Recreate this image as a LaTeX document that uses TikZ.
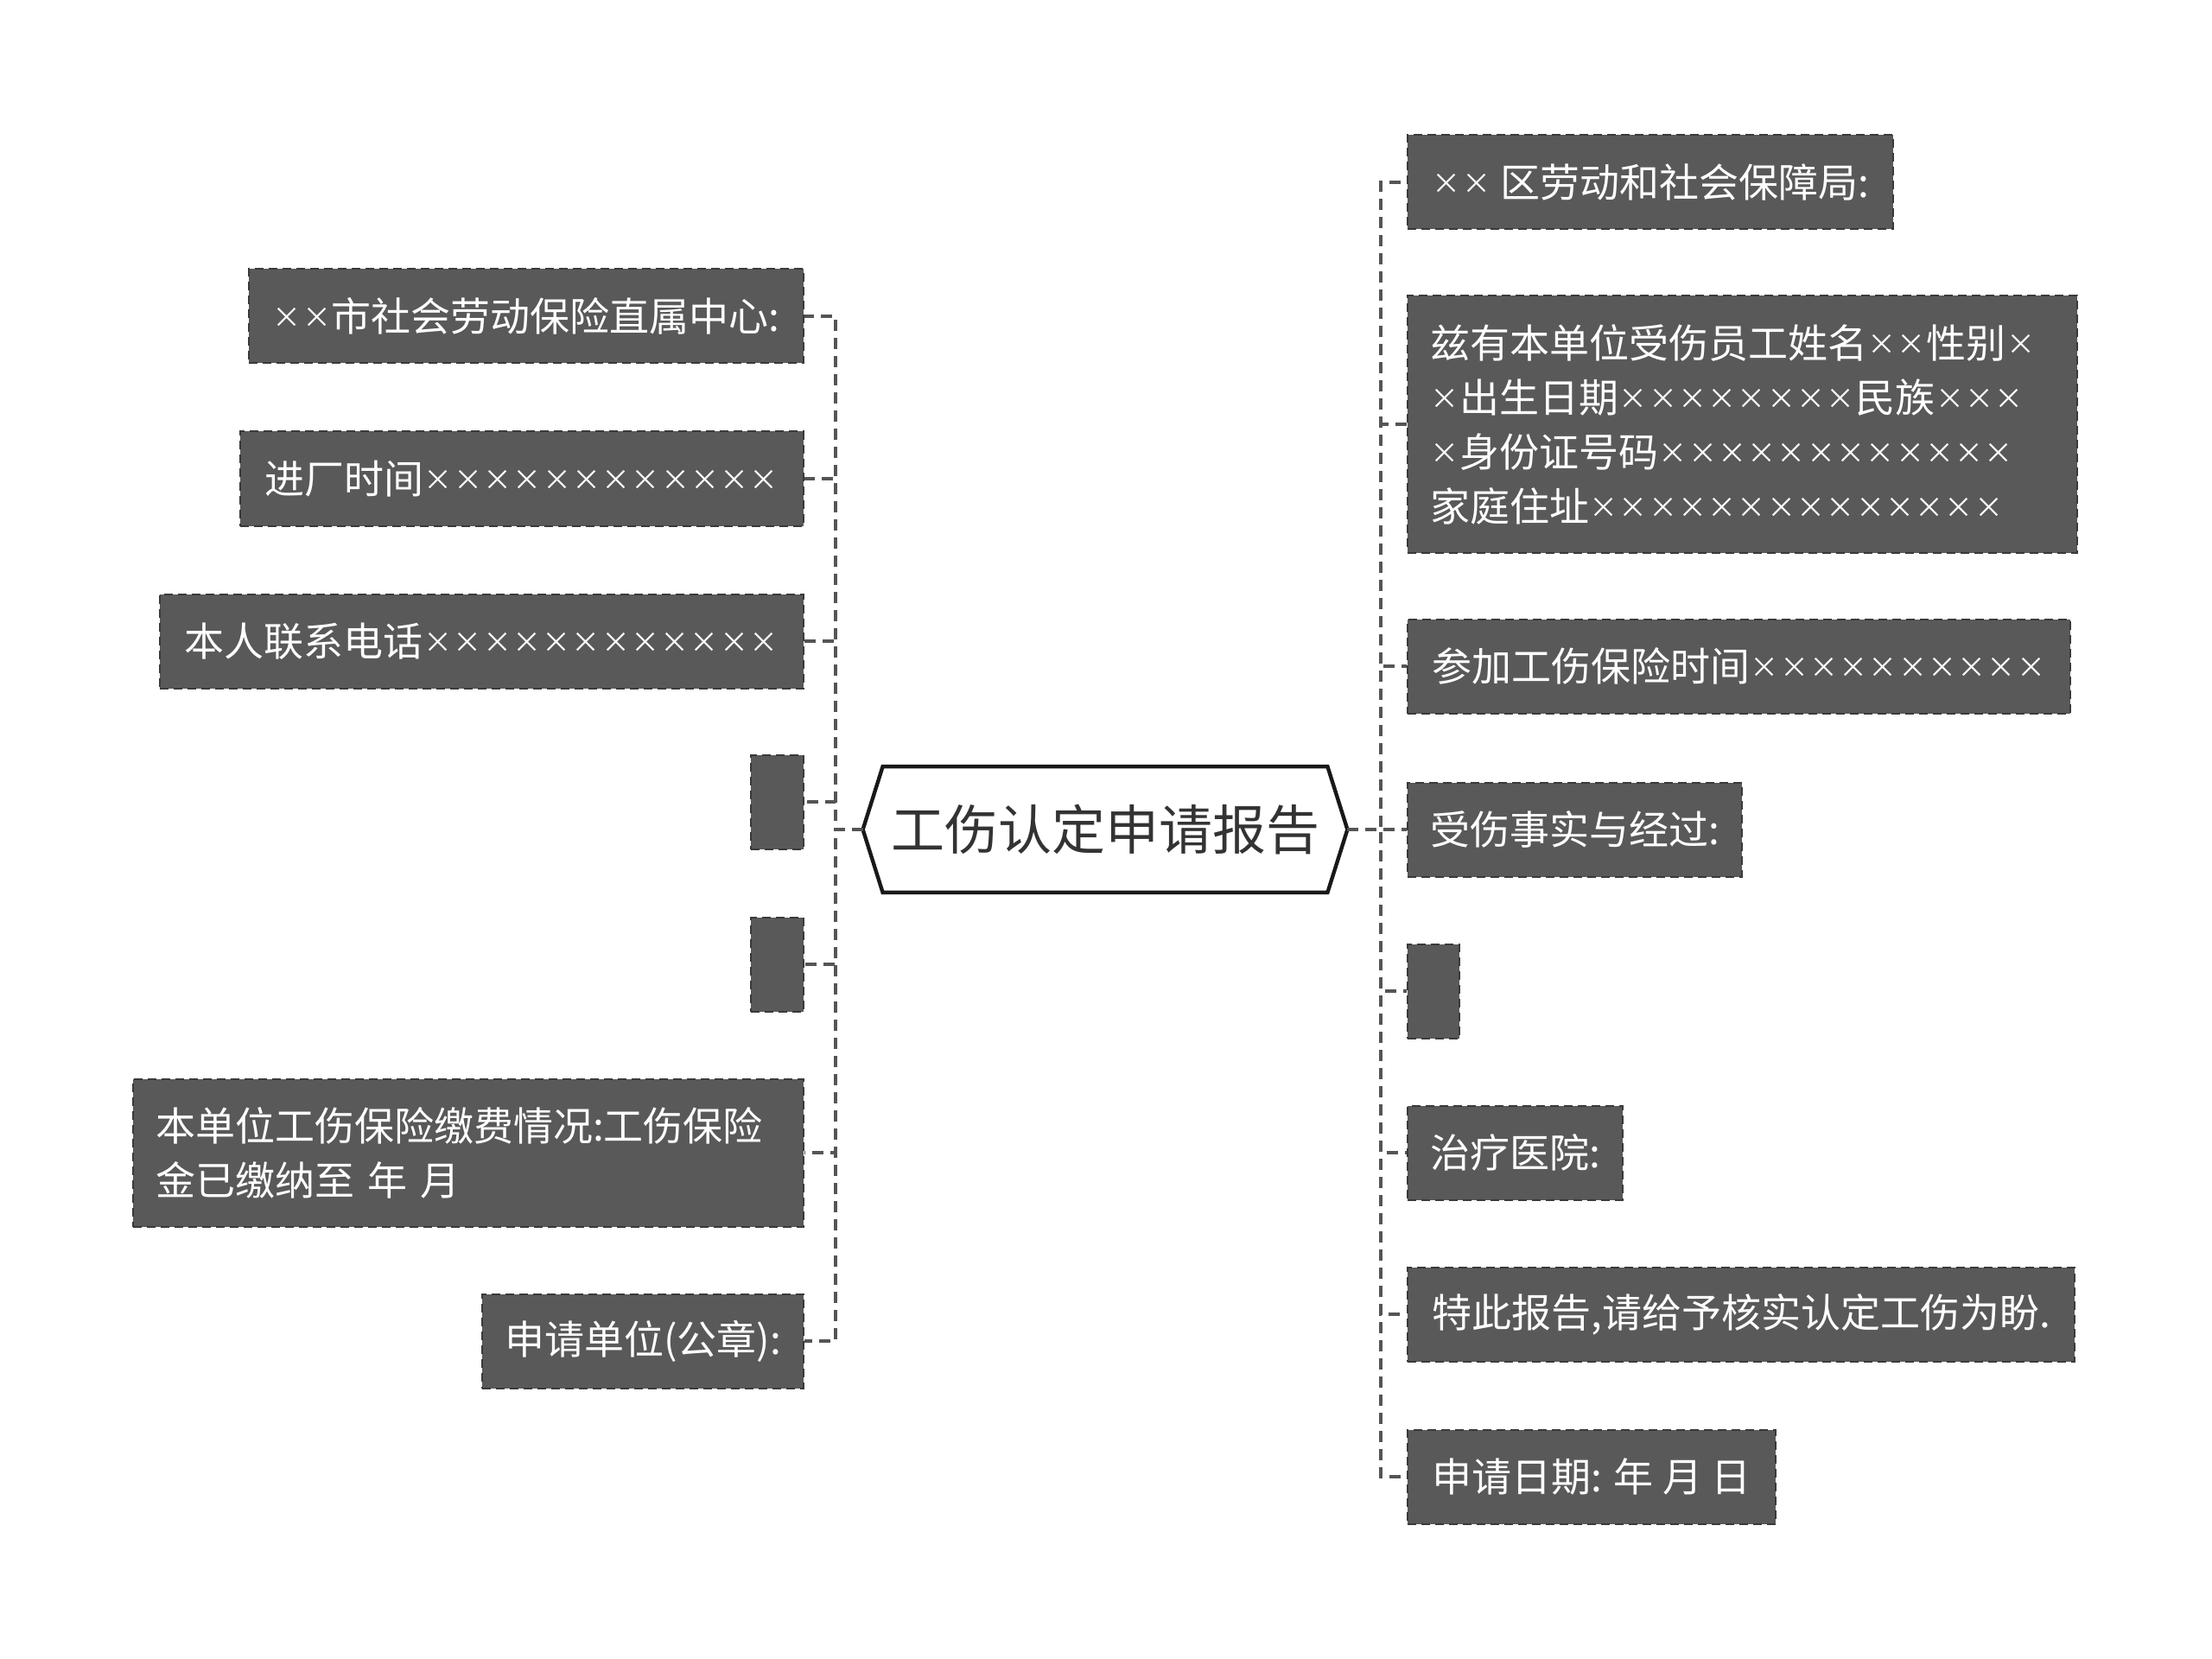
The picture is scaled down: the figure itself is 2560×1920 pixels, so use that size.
\documentclass[tikz,border=0pt]{standalone}
\usepackage{fontspec}
\setmainfont{Noto Sans CJK SC}
\usetikzlibrary{calc}
\definecolor{boxfill}{HTML}{595959}
\definecolor{boxline}{HTML}{3A3A3A}
\definecolor{connc}{HTML}{555555}
\definecolor{titletext}{HTML}{333333}
\newcommand\xm{\makebox[0.745em]{\raisebox{0.08em}{\scalebox{0.72}{×}}}}
\begin{document}
\begin{tikzpicture}[x=0.5pt,y=-0.5pt,
  leaf/.style={fill=boxfill, draw=boxline, dash pattern=on 5pt off 3pt, line width=1pt,
    text=white, font=\fontsize{23}{31.5}\selectfont, inner xsep=13pt, inner ysep=0pt,
    minimum height=54.5pt},
  lleaf/.style={leaf, anchor=east},
  rleaf/.style={leaf, anchor=west},
  conn/.style={draw=connc, line width=2pt, dash pattern=on 6.5pt off 4pt},
  title/.style={font=\fontsize{31}{31}\selectfont, text=titletext, minimum width=280pt,
    minimum height=72.5pt, inner sep=0pt}]
\useasboundingbox (0,0) rectangle (2560,1920);

% centre
\node[title] (C) at (1279,960) {工伤认定申请报告};
\draw[line width=2.2pt, line join=miter, draw=black!90]
  (C.west) -- ($(C.north west)+(23,0)$) -- ($(C.north east)+(-23,0)$) -- (C.east)
  -- ($(C.south east)+(-23,0)$) -- ($(C.south west)+(23,0)$) -- cycle;

\coordinate (lj) at (967,960);
\coordinate (rj) at (1598,960);

% left branch
\node[lleaf, minimum width=321pt] (L1) at (931,366) {\xm\xm 市社会劳动保险直属中心:};
\node[lleaf, minimum width=326pt] (L2) at (931,554) {进厂时间\xm\xm\xm\xm\xm\xm\xm\xm\xm\xm\xm\xm};
\node[lleaf, minimum width=372.5pt] (L3) at (931,742) {本人联系电话\xm\xm\xm\xm\xm\xm\xm\xm\xm\xm\xm\xm};
\node[lleaf, minimum width=30.5pt] (L4) at (931,928) {};
\node[lleaf, minimum width=30.5pt] (L5) at (931,1116) {};
\node[lleaf, text width=362pt, align=left, minimum height=85.5pt] (L6) at (931,1334)
  {本单位工伤保险缴费情况:工伤保险\\金已缴纳至 年 月};
\node[lleaf, minimum width=184.5pt] (L7) at (931,1552) {申请单位(公章):};

% right branch
\node[rleaf, minimum width=281pt] (R1) at (1628,211) {\xm\xm{} 区劳动和社会保障局:};
\node[rleaf, text width=361.5pt, align=left, minimum height=148.5pt] (R2) at (1628,491)
  {兹有本单位受伤员工姓名\xm\xm 性别\xm\\
   \xm 出生日期\xm\xm\xm\xm\xm\xm\xm\xm 民族\xm\xm\xm\\
   \xm 身份证号码\xm\xm\xm\xm\xm\xm\xm\xm\xm\xm\xm\xm\\
   家庭住址\xm\xm\xm\xm\xm\xm\xm\xm\xm\xm\xm\xm\xm\xm};
\node[rleaf, minimum width=383.5pt] (R3) at (1628,771) {参加工伤保险时间\xm\xm\xm\xm\xm\xm\xm\xm\xm\xm};
\node[rleaf, minimum width=192.5pt] (R4) at (1628,960) {受伤事实与经过:};
\node[rleaf, minimum width=30pt] (R5) at (1628,1147) {};
\node[rleaf, minimum width=122.5pt] (R6) at (1628,1334) {治疗医院:};
\node[rleaf, minimum width=386pt] (R7) at (1628,1521) {特此报告,请给予核实认定工伤为盼.};
\node[rleaf, minimum width=213pt] (R8) at (1628,1709) {申请日期: 年 月 日};

% connectors
\foreach \n in {L1,L2,L3,L4,L5,L6,L7}
  \draw[conn] (C.west) -- (lj) |- (\n.east);
\foreach \n in {R1,R2,R3,R4,R5,R6,R7,R8}
  \draw[conn] (C.east) -- (rj) |- (\n.west);
\end{tikzpicture}
\end{document}
